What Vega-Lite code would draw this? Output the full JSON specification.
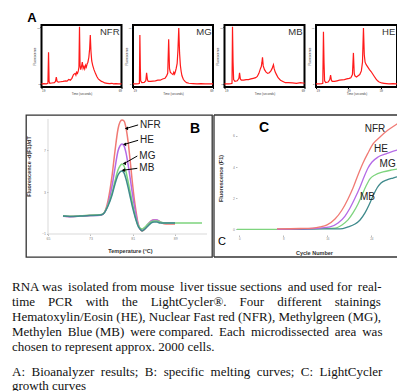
{
"$schema": "https://vega.github.io/schema/vega-lite/v6.json",
"padding": {"left": 12, "top": 10, "right": 0, "bottom": 0},
"autosize": {"type": "pad"},
"background": "white",
"spacing": 0,
"bounds": "full",
"config": {"view": {"stroke": null}, "axis": {"grid": false, "domain": false}, "font": "Liberation Sans"},
"datasets": {
"nfr": [{"t":19,"f":5},{"t":20.5,"f":5.5},{"t":22,"f":5},{"t":23,"f":6},{"t":23.4,"f":56},{"t":23.75,"f":9},{"t":24.2,"f":6},{"t":25.5,"f":6.5},{"t":27,"f":7},{"t":27.75,"f":9},{"t":28.25,"f":16},{"t":28.75,"f":9},{"t":29.5,"f":8},{"t":31,"f":8.5},{"t":32.5,"f":9},{"t":34,"f":10},{"t":35,"f":9.5},{"t":36,"f":12},{"t":37,"f":11},{"t":38,"f":14},{"t":39,"f":20},{"t":40,"f":22},{"t":40.5,"f":19},{"t":41,"f":24},{"t":41.5,"f":22},{"t":42,"f":26},{"t":42.4,"f":32},{"t":42.75,"f":97},{"t":43.1,"f":35},{"t":43.5,"f":28},{"t":44,"f":33},{"t":44.5,"f":40},{"t":45,"f":30},{"t":45.5,"f":33},{"t":46,"f":29},{"t":46.5,"f":35},{"t":47,"f":32},{"t":47.5,"f":37},{"t":48,"f":40},{"t":48.6,"f":48},{"t":49.1,"f":62},{"t":49.5,"f":84},{"t":49.9,"f":58},{"t":50.4,"f":42},{"t":51,"f":35},{"t":51.8,"f":28},{"t":52.7,"f":22},{"t":53.6,"f":17},{"t":54.5,"f":13},{"t":55.5,"f":11},{"t":56.5,"f":9},{"t":57.5,"f":8},{"t":58.5,"f":6.5},{"t":60,"f":6},{"t":61.5,"f":5.5},{"t":63,"f":6},{"t":64,"f":5},{"t":65.5,"f":5.5},{"t":67,"f":5},{"t":69,"f":5}],
"mg": [{"t":19,"f":5},{"t":21,"f":5},{"t":22.5,"f":5.5},{"t":23,"f":6},{"t":23.3,"f":84},{"t":23.6,"f":30},{"t":23.8,"f":10},{"t":24.5,"f":7},{"t":26,"f":7.5},{"t":27,"f":10},{"t":27.5,"f":23},{"t":28,"f":12},{"t":28.5,"f":9},{"t":30,"f":9},{"t":31.5,"f":9.5},{"t":33,"f":10},{"t":34.5,"f":11},{"t":36,"f":11},{"t":37.5,"f":13},{"t":39,"f":14},{"t":40,"f":18},{"t":40.7,"f":22},{"t":41.3,"f":77},{"t":41.8,"f":30},{"t":42.3,"f":24},{"t":43,"f":22},{"t":44,"f":20},{"t":44.5,"f":24},{"t":45,"f":21},{"t":45.5,"f":25},{"t":46,"f":30},{"t":46.6,"f":38},{"t":47.1,"f":60},{"t":47.6,"f":95},{"t":48.1,"f":55},{"t":48.6,"f":35},{"t":49.1,"f":25},{"t":49.6,"f":18},{"t":50.5,"f":12},{"t":51.5,"f":9},{"t":52.5,"f":7},{"t":54,"f":6},{"t":56.5,"f":5.5},{"t":59,"f":5},{"t":61.5,"f":5.5},{"t":64,"f":5},{"t":66.5,"f":5},{"t":69,"f":5}],
"mb": [{"t":19,"f":5},{"t":21.5,"f":5},{"t":23,"f":5.5},{"t":23.7,"f":6},{"t":24,"f":97},{"t":24.35,"f":40},{"t":24.7,"f":12},{"t":25.5,"f":9},{"t":27,"f":10},{"t":28,"f":14},{"t":28.4,"f":23},{"t":28.9,"f":13},{"t":29.5,"f":11},{"t":31,"f":11},{"t":32.5,"f":12},{"t":34,"f":12},{"t":35.5,"f":13},{"t":37,"f":14},{"t":38.5,"f":15},{"t":39.5,"f":17},{"t":40.5,"f":22},{"t":41.5,"f":30},{"t":42,"f":33},{"t":42.4,"f":40},{"t":42.75,"f":48},{"t":43.2,"f":34},{"t":44,"f":28},{"t":45,"f":24},{"t":46,"f":22},{"t":47,"f":23},{"t":48,"f":26},{"t":48.8,"f":30},{"t":49.3,"f":34},{"t":49.6,"f":36},{"t":50,"f":30},{"t":50.7,"f":24},{"t":51.5,"f":20},{"t":52.5,"f":15},{"t":54,"f":11},{"t":55.5,"f":9},{"t":57,"f":7},{"t":59,"f":7},{"t":61.5,"f":6.5},{"t":64,"f":6},{"t":66.5,"f":7},{"t":69,"f":6}],
"he": [{"t":19,"f":5},{"t":21,"f":5},{"t":22.5,"f":5.5},{"t":23.2,"f":6},{"t":23.6,"f":89},{"t":23.95,"f":40},{"t":24.3,"f":10},{"t":25,"f":7},{"t":26.5,"f":8},{"t":27.5,"f":12},{"t":28,"f":19},{"t":28.5,"f":11},{"t":29,"f":9},{"t":30.5,"f":9},{"t":32,"f":10},{"t":33.5,"f":11},{"t":35,"f":11.5},{"t":36.5,"f":12},{"t":38,"f":13},{"t":39.5,"f":14},{"t":40.5,"f":15},{"t":41.5,"f":20},{"t":42.1,"f":55},{"t":42.6,"f":22},{"t":43,"f":18},{"t":44,"f":16},{"t":45,"f":18},{"t":46,"f":20},{"t":47,"f":26},{"t":47.7,"f":40},{"t":48.3,"f":95},{"t":48.8,"f":52},{"t":49.3,"f":40},{"t":50,"f":36},{"t":51,"f":32},{"t":52,"f":28},{"t":53,"f":25},{"t":54,"f":21},{"t":55,"f":17},{"t":56,"f":13},{"t":57,"f":10},{"t":58,"f":8},{"t":59.5,"f":6.5},{"t":61,"f":6},{"t":62.5,"f":5.5},{"t":64,"f":5},{"t":66.5,"f":5.5},{"t":69,"f":5}],
"melt": [
{"s":"NFR","T":67.83,"F":0.72},{"s":"NFR","T":69.15,"F":0.67},{"s":"NFR","T":71.04,"F":0.72},{"s":"NFR","T":72.92,"F":0.77},{"s":"NFR","T":74.81,"F":0.82},{"s":"NFR","T":75.38,"F":0.91},{"s":"NFR","T":76.32,"F":2.16},{"s":"NFR","T":77.08,"F":4.55},{"s":"NFR","T":77.64,"F":6.94},{"s":"NFR","T":78.21,"F":9.04},{"s":"NFR","T":78.58,"F":9.71},{"s":"NFR","T":78.96,"F":9.9},{"s":"NFR","T":79.34,"F":9.81},{"s":"NFR","T":79.72,"F":9.14},{"s":"NFR","T":80.09,"F":7.9},{"s":"NFR","T":80.47,"F":6.17},{"s":"NFR","T":80.85,"F":4.26},{"s":"NFR","T":81.23,"F":2.54},{"s":"NFR","T":81.6,"F":1.2},{"s":"NFR","T":81.98,"F":0.05},{"s":"NFR","T":82.36,"F":-0.52},{"s":"NFR","T":82.74,"F":-0.71},{"s":"NFR","T":83.11,"F":-0.62},{"s":"NFR","T":83.68,"F":-0.23},{"s":"NFR","T":84.25,"F":0.15},{"s":"NFR","T":84.81,"F":0.34},{"s":"NFR","T":85.38,"F":0.34},{"s":"NFR","T":85.94,"F":0.24},{"s":"NFR","T":86.51,"F":0.05},{"s":"NFR","T":87.26,"F":-0.04},{"s":"NFR","T":88.02,"F":-0.04},{"s":"NFR","T":88.96,"F":-0.04},
{"s":"HE","T":67.83,"F":0.7},{"s":"HE","T":69.15,"F":0.66},{"s":"HE","T":71.04,"F":0.7},{"s":"HE","T":72.92,"F":0.76},{"s":"HE","T":74.81,"F":0.8},{"s":"HE","T":75.38,"F":0.9},{"s":"HE","T":76.32,"F":1.87},{"s":"HE","T":77.08,"F":3.59},{"s":"HE","T":77.64,"F":5.31},{"s":"HE","T":78.21,"F":6.94},{"s":"HE","T":78.58,"F":7.42},{"s":"HE","T":78.96,"F":7.61},{"s":"HE","T":79.34,"F":7.42},{"s":"HE","T":79.72,"F":6.75},{"s":"HE","T":80.09,"F":5.7},{"s":"HE","T":80.47,"F":4.45},{"s":"HE","T":80.85,"F":3.11},{"s":"HE","T":81.23,"F":1.87},{"s":"HE","T":81.6,"F":0.82},{"s":"HE","T":81.98,"F":-0.04},{"s":"HE","T":82.36,"F":-0.52},{"s":"HE","T":82.74,"F":-0.62},{"s":"HE","T":83.3,"F":-0.43},{"s":"HE","T":83.87,"F":-0.04},{"s":"HE","T":84.43,"F":0.24},{"s":"HE","T":85.0,"F":0.34},{"s":"HE","T":85.57,"F":0.34},{"s":"HE","T":86.13,"F":0.15},{"s":"HE","T":86.89,"F":0.05},{"s":"HE","T":88.02,"F":0.05},{"s":"HE","T":88.96,"F":0.05},
{"s":"MG","T":67.83,"F":0.74},{"s":"MG","T":69.15,"F":0.69},{"s":"MG","T":71.04,"F":0.73},{"s":"MG","T":72.92,"F":0.79},{"s":"MG","T":74.81,"F":0.84},{"s":"MG","T":75.38,"F":0.92},{"s":"MG","T":76.32,"F":1.77},{"s":"MG","T":77.08,"F":2.92},{"s":"MG","T":77.64,"F":4.07},{"s":"MG","T":78.21,"F":5.12},{"s":"MG","T":78.58,"F":5.5},{"s":"MG","T":78.96,"F":5.7},{"s":"MG","T":79.34,"F":5.5},{"s":"MG","T":79.72,"F":4.93},{"s":"MG","T":80.09,"F":4.07},{"s":"MG","T":80.47,"F":3.11},{"s":"MG","T":80.85,"F":2.16},{"s":"MG","T":81.23,"F":1.2},{"s":"MG","T":81.6,"F":0.43},{"s":"MG","T":81.98,"F":-0.14},{"s":"MG","T":82.36,"F":-0.43},{"s":"MG","T":82.74,"F":-0.52},{"s":"MG","T":83.3,"F":-0.33},{"s":"MG","T":83.87,"F":-0.04},{"s":"MG","T":84.43,"F":0.15},{"s":"MG","T":85.0,"F":0.24},{"s":"MG","T":85.57,"F":0.24},{"s":"MG","T":86.13,"F":0.15},{"s":"MG","T":87.08,"F":0.05},{"s":"MG","T":88.96,"F":0.05},{"s":"MG","T":90.85,"F":0.05},{"s":"MG","T":92.74,"F":0.05},{"s":"MG","T":94.06,"F":0.05},
{"s":"MB","T":67.83,"F":0.72},{"s":"MB","T":69.15,"F":0.68},{"s":"MB","T":71.04,"F":0.71},{"s":"MB","T":72.92,"F":0.76},{"s":"MB","T":74.81,"F":0.81},{"s":"MB","T":75.38,"F":0.9},{"s":"MB","T":76.32,"F":1.68},{"s":"MB","T":77.08,"F":2.73},{"s":"MB","T":77.64,"F":3.78},{"s":"MB","T":78.21,"F":4.64},{"s":"MB","T":78.58,"F":4.93},{"s":"MB","T":78.96,"F":5.03},{"s":"MB","T":79.34,"F":4.84},{"s":"MB","T":79.72,"F":4.26},{"s":"MB","T":80.09,"F":3.5},{"s":"MB","T":80.47,"F":2.63},{"s":"MB","T":80.85,"F":1.77},{"s":"MB","T":81.23,"F":1.01},{"s":"MB","T":81.6,"F":0.34},{"s":"MB","T":81.98,"F":-0.23},{"s":"MB","T":82.36,"F":-0.52},{"s":"MB","T":82.74,"F":-0.71},{"s":"MB","T":83.3,"F":-0.52},{"s":"MB","T":83.87,"F":-0.23},{"s":"MB","T":84.43,"F":0.05},{"s":"MB","T":85.0,"F":0.15},{"s":"MB","T":85.57,"F":0.15},{"s":"MB","T":86.13,"F":0.05},{"s":"MB","T":87.08,"F":0.05},{"s":"MB","T":88.96,"F":0.05}
],
"growth": [
{"s":"MG","c":-0.42,"v":0},{"s":"MG","c":6.85,"v":0},{"s":"MG","c":11.04,"v":0.02},{"s":"MG","c":14.67,"v":0.05},{"s":"MG","c":17.4,"v":0.08},{"s":"MG","c":18.67,"v":0.28},{"s":"MG","c":19.76,"v":0.6},{"s":"MG","c":20.67,"v":1.05},{"s":"MG","c":21.58,"v":1.62},{"s":"MG","c":22.31,"v":2.2},{"s":"MG","c":23.04,"v":2.78},{"s":"MG","c":23.76,"v":3.24},{"s":"MG","c":24.67,"v":3.49},{"s":"MG","c":26.13,"v":3.68},{"s":"MG","c":27.76,"v":3.81},{"s":"MG","c":28.67,"v":3.87},{"s":"MG","c":29.58,"v":3.87},
{"s":"MB","c":6.85,"v":0},{"s":"MB","c":11.04,"v":0},{"s":"MB","c":14.67,"v":0.02},{"s":"MB","c":18.31,"v":0.02},{"s":"MB","c":19.76,"v":0.15},{"s":"MB","c":21.04,"v":0.34},{"s":"MB","c":21.95,"v":0.6},{"s":"MB","c":22.85,"v":1.05},{"s":"MB","c":23.58,"v":1.56},{"s":"MB","c":24.31,"v":2.14},{"s":"MB","c":25.04,"v":2.65},{"s":"MB","c":25.76,"v":2.97},{"s":"MB","c":26.85,"v":3.17},{"s":"MB","c":27.95,"v":3.29},{"s":"MB","c":28.67,"v":3.36},{"s":"MB","c":29.58,"v":3.36},
{"s":"HE","c":6.85,"v":0},{"s":"HE","c":11.04,"v":0.02},{"s":"HE","c":13.4,"v":0.05},{"s":"HE","c":14.67,"v":0.08},{"s":"HE","c":16.49,"v":0.15},{"s":"HE","c":17.95,"v":0.4},{"s":"HE","c":19.22,"v":0.85},{"s":"HE","c":20.13,"v":1.37},{"s":"HE","c":21.04,"v":2.01},{"s":"HE","c":21.95,"v":2.72},{"s":"HE","c":22.67,"v":3.36},{"s":"HE","c":23.4,"v":3.94},{"s":"HE","c":24.13,"v":4.32},{"s":"HE","c":25.22,"v":4.64},{"s":"HE","c":26.67,"v":4.84},{"s":"HE","c":28.67,"v":5.09},{"s":"HE","c":29.58,"v":5.16},
{"s":"NFR","c":6.85,"v":0.02},{"s":"NFR","c":11.04,"v":0.05},{"s":"NFR","c":13.4,"v":0.08},{"s":"NFR","c":14.67,"v":0.15},{"s":"NFR","c":15.95,"v":0.28},{"s":"NFR","c":17.4,"v":0.66},{"s":"NFR","c":18.67,"v":1.24},{"s":"NFR","c":19.76,"v":1.95},{"s":"NFR","c":20.67,"v":2.65},{"s":"NFR","c":21.58,"v":3.49},{"s":"NFR","c":22.49,"v":4.26},{"s":"NFR","c":23.4,"v":4.9},{"s":"NFR","c":24.31,"v":5.48},{"s":"NFR","c":25.58,"v":5.93},{"s":"NFR","c":27.04,"v":6.37},{"s":"NFR","c":28.67,"v":6.76},{"s":"NFR","c":29.58,"v":6.96}
]
},
"vconcat": [
{"hconcat": [
  {"width": 17.5, "height": 62, "data": {"values": []}, "mark": "point"},
  {"width": 80, "height": 62, "view": {"stroke": "#000", "strokeWidth": 2},
   "layer": [
    {"data": {"name": "nfr"}, "mark": {"type": "line", "color": "#ff1a1a", "strokeWidth": 1.2},
     "encoding": {
      "x": {"field": "t", "type": "quantitative", "scale": {"domain": [19, 69], "nice": false, "zero": false}, "axis": {"values": [19,24,29,34,39,44,49,54,59,64,69], "labelFontSize": 3, "labelColor": "#444", "tickSize": 1.5, "tickColor": "#000", "labelPadding": 0.5, "labelFlush": true, "title": "Time (seconds)", "titleFontSize": 3, "titleFontWeight": "normal", "titlePadding": 0.5, "titleColor": "#444"}},
      "y": {"field": "f", "type": "quantitative", "scale": {"domain": [0, 100], "nice": false}, "axis": {"values": [5,12,19,26,33,40,47,54,61,68,75,82,89,96], "labelFontSize": 2.5, "labelColor": "#444", "tickSize": 1.5, "tickColor": "#000", "labelPadding": 0.5, "title": "Fluorescence", "titleFontSize": 3, "titleFontWeight": "normal", "titlePadding": 0.5, "titleColor": "#444"}}}},
    {"data": {"values": [{"name": "NFR", "t": 67.75, "f": 89.5}]}, "mark": {"type": "text", "align": "right", "baseline": "middle", "fontSize": 9.5, "font": "Liberation Sans Narrow, Liberation Sans", "color": "#333"},
     "encoding": {"x": {"field": "t", "type": "quantitative"}, "y": {"field": "f", "type": "quantitative"}, "text": {"field": "name"}}},
    {"data": {"values": [{"name": "A", "t": 13, "f": 111.3}]}, "mark": {"type": "text", "align": "center", "baseline": "middle", "fontSize": 13, "fontWeight": "bold", "color": "#000"},
     "encoding": {"x": {"field": "t", "type": "quantitative"}, "y": {"field": "f", "type": "quantitative"}, "text": {"field": "name"}}}
   ]},
  {"width": 80, "height": 62, "view": {"stroke": "#000", "strokeWidth": 2},
   "layer": [
    {"data": {"name": "mg"}, "mark": {"type": "line", "color": "#ff1a1a", "strokeWidth": 1.2},
     "encoding": {
      "x": {"field": "t", "type": "quantitative", "scale": {"domain": [19, 69], "nice": false, "zero": false}, "axis": {"values": [19,24,29,34,39,44,49,54,59,64,69], "labelFontSize": 3, "labelColor": "#444", "tickSize": 1.5, "tickColor": "#000", "labelPadding": 0.5, "labelFlush": true, "title": "Time (seconds)", "titleFontSize": 3, "titleFontWeight": "normal", "titlePadding": 0.5, "titleColor": "#444"}},
      "y": {"field": "f", "type": "quantitative", "scale": {"domain": [0, 100], "nice": false}, "axis": {"values": [5,12,19,26,33,40,47,54,61,68,75,82,89,96], "labelFontSize": 2.5, "labelColor": "#444", "tickSize": 1.5, "tickColor": "#000", "labelPadding": 0.5, "title": "Fluorescence", "titleFontSize": 3, "titleFontWeight": "normal", "titlePadding": 0.5, "titleColor": "#444"}}}},
    {"data": {"values": [{"name": "MG", "t": 68.1, "f": 89.5}]}, "mark": {"type": "text", "align": "right", "baseline": "middle", "fontSize": 9.5, "font": "Liberation Sans Narrow, Liberation Sans", "color": "#333"},
     "encoding": {"x": {"field": "t", "type": "quantitative"}, "y": {"field": "f", "type": "quantitative"}, "text": {"field": "name"}}}
   ]},
  {"width": 80, "height": 62, "view": {"stroke": "#000", "strokeWidth": 2},
   "layer": [
    {"data": {"name": "mb"}, "mark": {"type": "line", "color": "#ff1a1a", "strokeWidth": 1.2},
     "encoding": {
      "x": {"field": "t", "type": "quantitative", "scale": {"domain": [19, 69], "nice": false, "zero": false}, "axis": {"values": [19,24,29,34,39,44,49,54,59,64,69], "labelFontSize": 3, "labelColor": "#444", "tickSize": 1.5, "tickColor": "#000", "labelPadding": 0.5, "labelFlush": true, "title": "Time (seconds)", "titleFontSize": 3, "titleFontWeight": "normal", "titlePadding": 0.5, "titleColor": "#444"}},
      "y": {"field": "f", "type": "quantitative", "scale": {"domain": [0, 100], "nice": false}, "axis": {"values": [5,12,19,26,33,40,47,54,61,68,75,82,89,96], "labelFontSize": 2.5, "labelColor": "#444", "tickSize": 1.5, "tickColor": "#000", "labelPadding": 0.5, "title": "Fluorescence", "titleFontSize": 3, "titleFontWeight": "normal", "titlePadding": 0.5, "titleColor": "#444"}}}},
    {"data": {"values": [{"name": "MB", "t": 67.75, "f": 89.5}]}, "mark": {"type": "text", "align": "right", "baseline": "middle", "fontSize": 9.5, "font": "Liberation Sans Narrow, Liberation Sans", "color": "#333"},
     "encoding": {"x": {"field": "t", "type": "quantitative"}, "y": {"field": "f", "type": "quantitative"}, "text": {"field": "name"}}}
   ]},
  {"width": 81, "height": 62, "view": {"stroke": "#000", "strokeWidth": 2},
   "layer": [
    {"data": {"name": "he"}, "mark": {"type": "line", "color": "#ff1a1a", "strokeWidth": 1.2},
     "encoding": {
      "x": {"field": "t", "type": "quantitative", "scale": {"domain": [19, 69], "nice": false, "zero": false}, "axis": {"values": [19,24,29,34,39,44,49,54,59,64,69], "labelFontSize": 3, "labelColor": "#444", "tickSize": 1.5, "tickColor": "#000", "labelPadding": 0.5, "labelFlush": true, "title": "Time (seconds)", "titleFontSize": 3, "titleFontWeight": "normal", "titlePadding": 0.5, "titleColor": "#444"}},
      "y": {"field": "f", "type": "quantitative", "scale": {"domain": [0, 100], "nice": false}, "axis": {"values": [5,12,19,26,33,40,47,54,61,68,75,82,89,96], "labelFontSize": 2.5, "labelColor": "#444", "tickSize": 1.5, "tickColor": "#000", "labelPadding": 0.5, "title": "Fluorescence", "titleFontSize": 3, "titleFontWeight": "normal", "titlePadding": 0.5, "titleColor": "#444"}}}},
    {"data": {"values": [{"name": "HE", "t": 67.9, "f": 89.5}]}, "mark": {"type": "text", "align": "right", "baseline": "middle", "fontSize": 9.5, "font": "Liberation Sans Narrow, Liberation Sans", "color": "#333"},
     "encoding": {"x": {"field": "t", "type": "quantitative"}, "y": {"field": "f", "type": "quantitative"}, "text": {"field": "name"}}}
   ]}
 ], "spacing": 11.5, "bounds": "flush"},
{"width": 10, "height": 16.35, "data": {"values": []}, "mark": "point"},
{"hconcat": [
  {"width": 12, "height": 142, "data": {"values": []}, "mark": "point"},
  {"width": 186, "height": 142, "view": {"stroke": "#333", "strokeWidth": 1.3},
   "layer": [
    {"data": {"values": [{"T": 65, "T2": 95, "F": -1, "F2": -1}, {"T": 65, "T2": 65, "F": -1, "F2": 10}]},
     "mark": {"type": "rule", "color": "#cfcfcf", "strokeWidth": 0.8},
     "encoding": {"x": {"field": "T", "type": "quantitative"}, "x2": {"field": "T2"}, "y": {"field": "F", "type": "quantitative"}, "y2": {"field": "F2"}}},
    {"data": {"name": "melt"}, "mark": {"type": "line", "strokeWidth": 1.5, "interpolate": "monotone"},
     "encoding": {
      "x": {"field": "T", "type": "quantitative", "scale": {"domain": [60.85, 95.94], "nice": false, "zero": false},
            "axis": {"values": [65,67,69,71,73,75,77,79,81,83,85,87,89,91,93,95], "offset": -23, "labelFontSize": 3.5, "labelColor": "#888", "tickSize": 1.5, "tickColor": "#bbb", "labelPadding": 1, "title": "Temperature (°C)", "titleFontSize": 5.5, "titleFontWeight": "bold", "titleColor": "#333", "titleFont": "Liberation Sans Narrow, Liberation Sans", "titleX": 104, "titleY": 14}},
      "y": {"field": "F", "type": "quantitative", "scale": {"domain": [-3.2, 10.38], "nice": false, "zero": false},
            "axis": {"values": [-1,0,1,2,3,4,5,6,7,8,9,10], "offset": -22, "labelFontSize": 3.5, "labelColor": "#888", "tickSize": 1.5, "tickColor": "#bbb", "labelPadding": 1, "title": "Fluorescence -d(F1)/dT", "titleFontSize": 5.5, "titleFontWeight": "bold", "titleColor": "#333", "titleFont": "Liberation Sans Narrow, Liberation Sans", "titleX": -17, "titleY": 51}},
      "color": {"field": "s", "type": "nominal", "scale": {"domain": ["NFR", "HE", "MG", "MB"], "range": ["#f07a74", "#b46ae6", "#7ed47e", "#3f8a8c"]}, "legend": null}}},
    {"data": {"values": [{"s": "NFR", "T": 82.0, "F": 9.43, "T2": 79.8, "F2": 9.1}, {"s": "HE", "T": 82.0, "F": 7.96, "T2": 79.45, "F2": 7.58}, {"s": "MG", "T": 81.85, "F": 6.46, "T2": 79.4, "F2": 5.75}, {"s": "MB", "T": 81.85, "F": 5.28, "T2": 79.2, "F2": 5.1}]},
     "layer": [
      {"mark": {"type": "rule", "color": "#000", "strokeWidth": 1},
       "encoding": {"x": {"field": "T", "type": "quantitative"}, "x2": {"field": "T2"}, "y": {"field": "F", "type": "quantitative"}, "y2": {"field": "F2"}}},
      {"mark": {"type": "point", "shape": "triangle-left", "filled": true, "color": "#000", "size": 14, "opacity": 1},
       "encoding": {"x": {"field": "T2", "type": "quantitative"}, "y": {"field": "F2", "type": "quantitative"}}},
      {"mark": {"type": "text", "align": "left", "baseline": "middle", "dx": 2, "fontSize": 10, "font": "Liberation Sans Narrow, Liberation Sans", "color": "#222"},
       "encoding": {"x": {"field": "T", "type": "quantitative"}, "y": {"field": "F", "type": "quantitative"}, "text": {"field": "s"}}}
     ]},
    {"data": {"values": [{"name": "B", "T": 92.74, "F": 9.04}]}, "mark": {"type": "text", "align": "center", "baseline": "middle", "fontSize": 14, "fontWeight": "bold", "color": "#000"},
     "encoding": {"x": {"field": "T", "type": "quantitative"}, "y": {"field": "F", "type": "quantitative"}, "text": {"field": "name"}}}
   ]},
  {"width": 183, "height": 142,
   "layer": [
    {"data": {"values": [{"c": -4.6, "c2": 28.67, "v": 7.34, "v2": 7.34}, {"c": -4.6, "c2": 28.67, "v": -1.78, "v2": -1.78}, {"c": -4.6, "c2": -4.6, "v": -1.78, "v2": 7.34}]},
     "mark": {"type": "rule", "color": "#333", "strokeWidth": 1.3},
     "encoding": {"x": {"field": "c", "type": "quantitative"}, "x2": {"field": "c2"}, "y": {"field": "v", "type": "quantitative"}, "y2": {"field": "v2"}}},
    {"data": {"name": "growth"}, "mark": {"type": "line", "strokeWidth": 1.3, "interpolate": "monotone", "clip": true},
     "encoding": {
      "x": {"field": "c", "type": "quantitative", "scale": {"domain": [-4.6, 28.67], "nice": false, "zero": false},
            "axis": {"values": [0,1,2,3,4,5,6,7,8,9,10,11,12,13,14,15,16,17,18,19,20,21,22,23,24,25,26,27,28], "offset": -22, "labelFontSize": 3, "labelColor": "#888", "tickSize": 1.5, "tickColor": "#bbb", "labelPadding": 1, "title": "Cycle Number", "titleFontSize": 5.5, "titleFontWeight": "bold", "titleColor": "#333", "titleFont": "Liberation Sans Narrow, Liberation Sans", "titleX": 100, "titleY": 15}},
      "y": {"field": "v", "type": "quantitative", "scale": {"domain": [-1.78, 7.34], "nice": false, "zero": false},
            "axis": {"values": [0,1,2,3,4,5,6,7], "offset": -23, "labelFontSize": 3.5, "labelColor": "#888", "tickSize": 1.5, "tickColor": "#bbb", "labelPadding": 1, "title": "Fluorescence (F1)", "titleFontSize": 5.5, "titleFontWeight": "bold", "titleColor": "#333", "titleFont": "Liberation Sans Narrow, Liberation Sans", "titleX": -14, "titleY": 63}},
      "color": {"field": "s", "type": "nominal", "scale": {"domain": ["NFR", "HE", "MG", "MB"], "range": ["#f07a74", "#b46ae6", "#72d272", "#5a64c6"]}, "legend": null}}},
    {"data": {"values": [{"name": "NFR", "c": 24.67, "v": 6.44}, {"name": "HE", "c": 25.76, "v": 5.16}, {"name": "MG", "c": 26.96, "v": 4.19}, {"name": "MB", "c": 23.31, "v": 2.07}]},
     "mark": {"type": "text", "align": "center", "baseline": "middle", "fontSize": 10, "font": "Liberation Sans Narrow, Liberation Sans", "color": "#222"},
     "encoding": {"x": {"field": "c", "type": "quantitative"}, "y": {"field": "v", "type": "quantitative"}, "text": {"field": "name"}}},
    {"data": {"values": [{"name": "C", "c": 4.49, "v": 6.51}]}, "mark": {"type": "text", "align": "center", "baseline": "middle", "fontSize": 14, "fontWeight": "bold", "font": "Liberation Sans Narrow, Liberation Sans", "color": "#000"},
     "encoding": {"x": {"field": "c", "type": "quantitative"}, "y": {"field": "v", "type": "quantitative"}, "text": {"field": "name"}}},
    {"data": {"values": [{"name": "C", "c": -3.15, "v": -0.82}]}, "mark": {"type": "text", "align": "center", "baseline": "middle", "fontSize": 11, "font": "Liberation Sans Narrow, Liberation Sans", "color": "#000"},
     "encoding": {"x": {"field": "c", "type": "quantitative"}, "y": {"field": "v", "type": "quantitative"}, "text": {"field": "name"}}}
   ]}
 ], "spacing": 2, "bounds": "flush"},
{"width": 10, "height": 17.35, "data": {"values": []}, "mark": "point"},
{"width": 371, "height": 75,
 "data": {"values": [
   {"line": 1, "text": "RNA was\u2009 isolated from mouse\u2009 liver tissue sections\u2009 and used for\u2009 real-"},
   {"line": 2, "text": "time\u00a0\u00a0\u00a0 PCR\u00a0\u00a0\u00a0 with\u00a0\u00a0\u00a0 the\u00a0\u00a0\u00a0 LightCycler®.\u00a0\u00a0\u00a0 Four\u00a0\u00a0\u00a0 different\u00a0\u00a0\u00a0 stainings"},
   {"line": 3, "text": "Hematoxylin/Eosin (HE), Nuclear Fast red (NFR), Methylgreen (MG),"},
   {"line": 4, "text": "Methylen\u2009 Blue (MB)\u2009 were compared.\u2009 Each\u2009 microdissected\u2009 area\u2009 was"},
   {"line": 5, "text": "chosen to represent approx. 2000 cells."}]},
 "mark": {"type": "text", "align": "left", "baseline": "alphabetic", "font": "Liberation Serif", "fontSize": 13, "color": "#111"},
 "encoding": {
   "x": {"datum": 0, "type": "quantitative", "scale": {"domain": [0, 1]}, "axis": null},
   "y": {"field": "line", "type": "quantitative", "scale": {"domain": [0, 5], "reverse": true, "nice": false, "zero": false}, "axis": null},
   "text": {"field": "text"}}},
{"width": 10, "height": 8, "data": {"values": []}, "mark": "point"},
{"width": 371, "height": 28,
 "data": {"values": [
   {"line": 1, "text": "A:\u00a0 Bioanalyzer\u00a0 results;\u00a0 B:\u00a0 specific\u00a0 melting\u00a0 curves;\u00a0 C:\u00a0 LightCycler"},
   {"line": 2, "text": "growth curves"}]},
 "mark": {"type": "text", "align": "left", "baseline": "alphabetic", "font": "Liberation Serif", "fontSize": 13, "color": "#111"},
 "encoding": {
   "x": {"datum": 0, "type": "quantitative", "scale": {"domain": [0, 1]}, "axis": null},
   "y": {"field": "line", "type": "quantitative", "scale": {"domain": [0, 2], "reverse": true, "nice": false, "zero": false}, "axis": null},
   "text": {"field": "text"}}}
]
}
